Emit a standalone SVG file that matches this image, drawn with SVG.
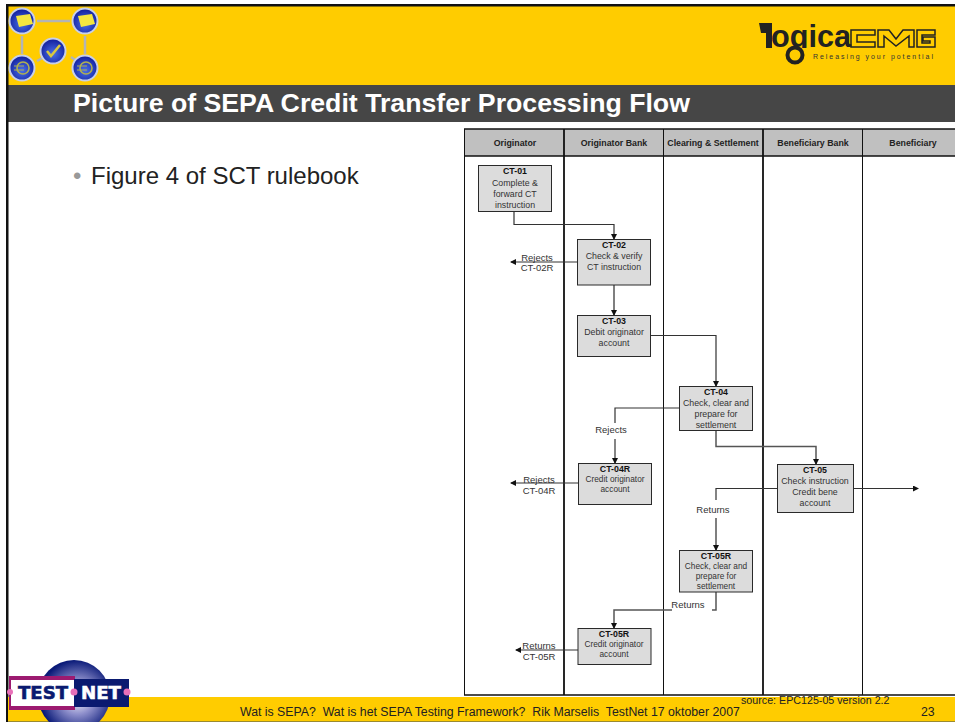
<svg xmlns="http://www.w3.org/2000/svg" width="955" height="722" viewBox="0 0 955 722">
<style>
text{font-family:"Liberation Sans",Arial,sans-serif}
.b{fill:#dcdcdc;stroke:#2a2a2a;stroke-width:1}
.t{font-size:8.800px;fill:#333;text-anchor:middle}
.tb{font-size:8.800px;font-weight:bold;fill:#111;text-anchor:middle}
.h{font-size:8.800px;font-weight:bold;fill:#222;text-anchor:middle}
.l{font-size:9.500px;fill:#333;text-anchor:middle}
.c{fill:none;stroke:#333;stroke-width:1.2}
.c2{fill:none;stroke:#555;stroke-width:1.5}
.link{stroke:#b4b4b4;stroke-width:2.5}
.ball{fill:url(#ballg);stroke:#c8d0e8;stroke-width:2}
</style>
<defs>
<marker id="a" markerWidth="6" markerHeight="6" refX="5" refY="3" orient="auto" markerUnits="userSpaceOnUse"><path d="M0,0L6,3L0,6Z" fill="#111"/></marker>
<radialGradient id="ballg" cx="50%" cy="60%" r="55%"><stop offset="0" stop-color="#4a70e8"/><stop offset="1" stop-color="#1422a0"/></radialGradient>
<radialGradient id="glob" cx="55%" cy="52%" r="52%"><stop offset="0" stop-color="#fff"/><stop offset="0.45" stop-color="#8f90cc"/><stop offset="1" stop-color="#0a1a78"/></radialGradient>
<clipPath id="logoclip"><rect x="760" y="15" width="95" height="33"/></clipPath>
</defs>
<rect width="955" height="722" fill="#fff"/>
<g id="header">
<rect x="8" y="6" width="947" height="79" fill="#ffcc00"/>
<rect x="8" y="85" width="947" height="37" fill="#464646"/>
<rect x="6" y="4" width="949" height="2.500" fill="#111"/>
<rect x="6" y="4" width="2.500" height="718" fill="#111"/>
<text x="73" y="112" font-size="26.700" font-weight="bold" fill="#fff">Picture of SEPA Credit Transfer Processing Flow</text>
</g>
<g id="footer">
<rect x="8" y="697" width="947" height="24" fill="#ffcc00"/>
<rect x="8" y="721" width="947" height="1" fill="#9a8a30"/>
<text x="240" y="716" font-size="12.300" fill="#222" xml:space="preserve">Wat is SEPA?  Wat is het SEPA Testing Framework?  Rik Marselis  TestNet 17 oktober 2007</text>
<text x="741" y="704" font-size="10.700" fill="#222">source: EPC125-05 version 2.2</text>
<text x="921" y="716" font-size="12.300" fill="#222">23</text>
</g>
<g id="emblem">
<path class="link" d="M37,21H70M22,36V54M85,36V54M37,61L44,57M71,57L78,62" fill="none"/>
<circle class="ball" cx="22" cy="21" r="12.500"/><circle class="ball" cx="85" cy="21" r="12.500"/>
<circle class="ball" cx="53" cy="51" r="12.500"/><circle class="ball" cx="22" cy="68" r="12.500"/><circle class="ball" cx="85" cy="68" r="12.500"/>
<path d="M16,16L30,14L33,24L19,27Z" fill="#f4e640"/><path d="M78,16L92,14L95,24L81,27Z" fill="#f4e640"/>
<path d="M47,51L51,56L60,45" fill="none" stroke="#d8c840" stroke-width="2.500"/>
<circle cx="23" cy="68" r="6" fill="none" stroke="#b0b050" stroke-width="1.600"/><circle cx="86" cy="68" r="6" fill="none" stroke="#b0b050" stroke-width="1.600"/>
<path d="M14,66H24M14,70H24M77,66H87M77,70H87" stroke="#b0b050" stroke-width="1.200"/>
</g>
<g id="logica">
<path d="M759,23H772V48H766V33H761Z" fill="#222"/>
<text x="771" y="47" font-size="31" font-weight="bold" fill="#222" textLength="80" lengthAdjust="spacingAndGlyphs" clip-path="url(#logoclip)">ogica</text>
<circle cx="795" cy="55" r="7.500" fill="none" stroke="#222" stroke-width="4"/>
<g fill="none" stroke="#222" stroke-width="1.500">
<path d="M851,30H875V35H857V42H875V47H851Z"/>
<path d="M878,47V30H889L896,39L903,30H914V47H909V36L896,46L884,36V47Z"/>
<path d="M935,30H917V47H935V37H923V41H930V43H922V35H935Z"/>
</g>
<text x="813" y="59" font-size="7" fill="#333" letter-spacing="1.950">Releasing your potential</text>
</g>
<g id="bullet">
<text x="73" y="184" font-size="24" fill="#999">•</text>
<text x="91" y="184" font-size="24" fill="#222">Figure 4 of SCT rulebook</text>
</g>
<g id="lanes">
<rect x="465" y="129" width="490" height="27" fill="#c0c0c0"/>
<path d="M464,129H955M464,156H955M464,695H955" stroke="#111" stroke-width="1.500" fill="none"/>
<path d="M464.500,129V695M663.500,129V695M862.500,129V695" stroke="#111" stroke-width="1" fill="none"/>
<path d="M564,129V695M763,129V695" stroke="#111" stroke-width="1.800" fill="none"/>
<text class="h" x="515" y="146">Originator</text>
<text class="h" x="614" y="146">Originator Bank</text>
<text class="h" x="713" y="146">Clearing &amp; Settlement</text>
<text class="h" x="813" y="146">Beneficiary Bank</text>
<text class="h" x="913" y="146">Beneficiary</text>
</g>
<g id="connectors">
<path class="c" marker-end="url(#a)" d="M514,212V224.500H614V239"/>
<path class="c" marker-end="url(#a)" d="M577,262H511"/>
<path class="c2" marker-end="url(#a)" d="M614,285V315"/>
<path class="c" marker-end="url(#a)" d="M651,335.500H716V386"/>
<path class="c" d="M679,408H615V423"/>
<path class="c" marker-end="url(#a)" d="M615,439V463"/>
<path class="c2" marker-end="url(#a)" d="M716,430V446.500H816V464"/>
<path class="c" marker-end="url(#a)" d="M578,483H511"/>
<path class="c" d="M777,488.500H716V500"/>
<path class="c2" marker-end="url(#a)" d="M716,518V550"/>
<path class="c" marker-end="url(#a)" d="M854,488.500H918"/>
<path class="c2" d="M716,592V610H712"/>
<path class="c2" marker-end="url(#a)" d="M672,610H614V628"/>
<path class="c" marker-end="url(#a)" d="M578,650H516"/>
</g>
<g id="edge-labels">
<text class="l" x="537" y="261">Rejects</text><text class="l" x="537" y="271">CT-02R</text>
<text class="l" x="611" y="433">Rejects</text>
<text class="l" x="539" y="483">Rejects</text><text class="l" x="539" y="494">CT-04R</text>
<text class="l" x="713" y="513">Returns</text>
<text class="l" x="688" y="608">Returns</text>
<text class="l" x="539" y="649">Returns</text><text class="l" x="539" y="660">CT-05R</text>
</g>
<g id="ct01"><rect class="b" x="478.500" y="165.500" width="73" height="46"/><text class="tb" x="515" y="174">CT-01</text><text class="t" x="515" y="186">Complete &amp;</text><text class="t" x="515" y="197">forward CT</text><text class="t" x="515" y="208">instruction</text></g>
<g id="ct02"><rect class="b" x="577.500" y="239.500" width="73" height="45.500"/><text class="tb" x="614" y="248">CT-02</text><text class="t" x="614" y="259">Check &amp; verify</text><text class="t" x="614" y="270">CT instruction</text></g>
<g id="ct03"><rect class="b" x="577.500" y="315.500" width="73" height="41"/><text class="tb" x="614" y="324">CT-03</text><text class="t" x="614" y="335">Debit originator</text><text class="t" x="614" y="346">account</text></g>
<g id="ct04"><rect class="b" x="679.500" y="386.500" width="73" height="44"/><text class="tb" x="716" y="395">CT-04</text><text class="t" x="716" y="406">Check, clear and</text><text class="t" x="716" y="417">prepare for</text><text class="t" x="716" y="428">settlement</text></g>
<g id="ct04r"><rect class="b" x="578.500" y="463.500" width="73" height="41"/><text class="tb" x="615" y="472">CT-04R</text><text class="t" x="615" y="482" style="font-size:8.300px">Credit originator</text><text class="t" x="615" y="492" style="font-size:8.300px">account</text></g>
<g id="ct05"><rect class="b" x="777.500" y="464.500" width="76" height="48"/><text class="tb" x="815" y="473">CT-05</text><text class="t" x="815" y="484">Check instruction</text><text class="t" x="815" y="495">Credit bene</text><text class="t" x="815" y="506">account</text></g>
<g id="ct05r-a"><rect class="b" x="679.500" y="550.500" width="73" height="41.500"/><text class="tb" x="716" y="559">CT-05R</text><text class="t" x="716" y="569" style="font-size:8.300px">Check, clear and</text><text class="t" x="716" y="579" style="font-size:8.300px">prepare for</text><text class="t" x="716" y="589" style="font-size:8.300px">settlement</text></g>
<g id="ct05r-b"><rect class="b" x="578" y="628.500" width="73" height="36"/><text class="tb" x="614" y="637">CT-05R</text><text class="t" x="614" y="647" style="font-size:8.300px">Credit originator</text><text class="t" x="614" y="657" style="font-size:8.300px">account</text></g>
<g id="testnet">
<circle cx="74" cy="696" r="36" fill="url(#glob)"/>
<rect x="9" y="676" width="66" height="34" fill="#9c1a70"/>
<rect x="11" y="680" width="63" height="26" fill="#fff"/>
<rect x="74" y="679" width="55" height="28" fill="#0a1a70"/>
<text x="18" y="699" font-size="18" font-weight="bold" fill="#0a1a70" stroke="#0a1a70" stroke-width="0.600" style="font-family:'DejaVu Sans',sans-serif" textLength="50" lengthAdjust="spacingAndGlyphs">TEST</text>
<text x="81" y="699" font-size="18" font-weight="bold" fill="#fff" stroke="#fff" stroke-width="0.600" style="font-family:'DejaVu Sans',sans-serif" textLength="40" lengthAdjust="spacingAndGlyphs">NET</text>
<circle cx="10" cy="692" r="3" fill="#e870b8"/><circle cx="74" cy="692" r="3.500" fill="#e870b8"/><circle cx="127" cy="692" r="3.500" fill="#e870b8"/>
</g>
</svg>
